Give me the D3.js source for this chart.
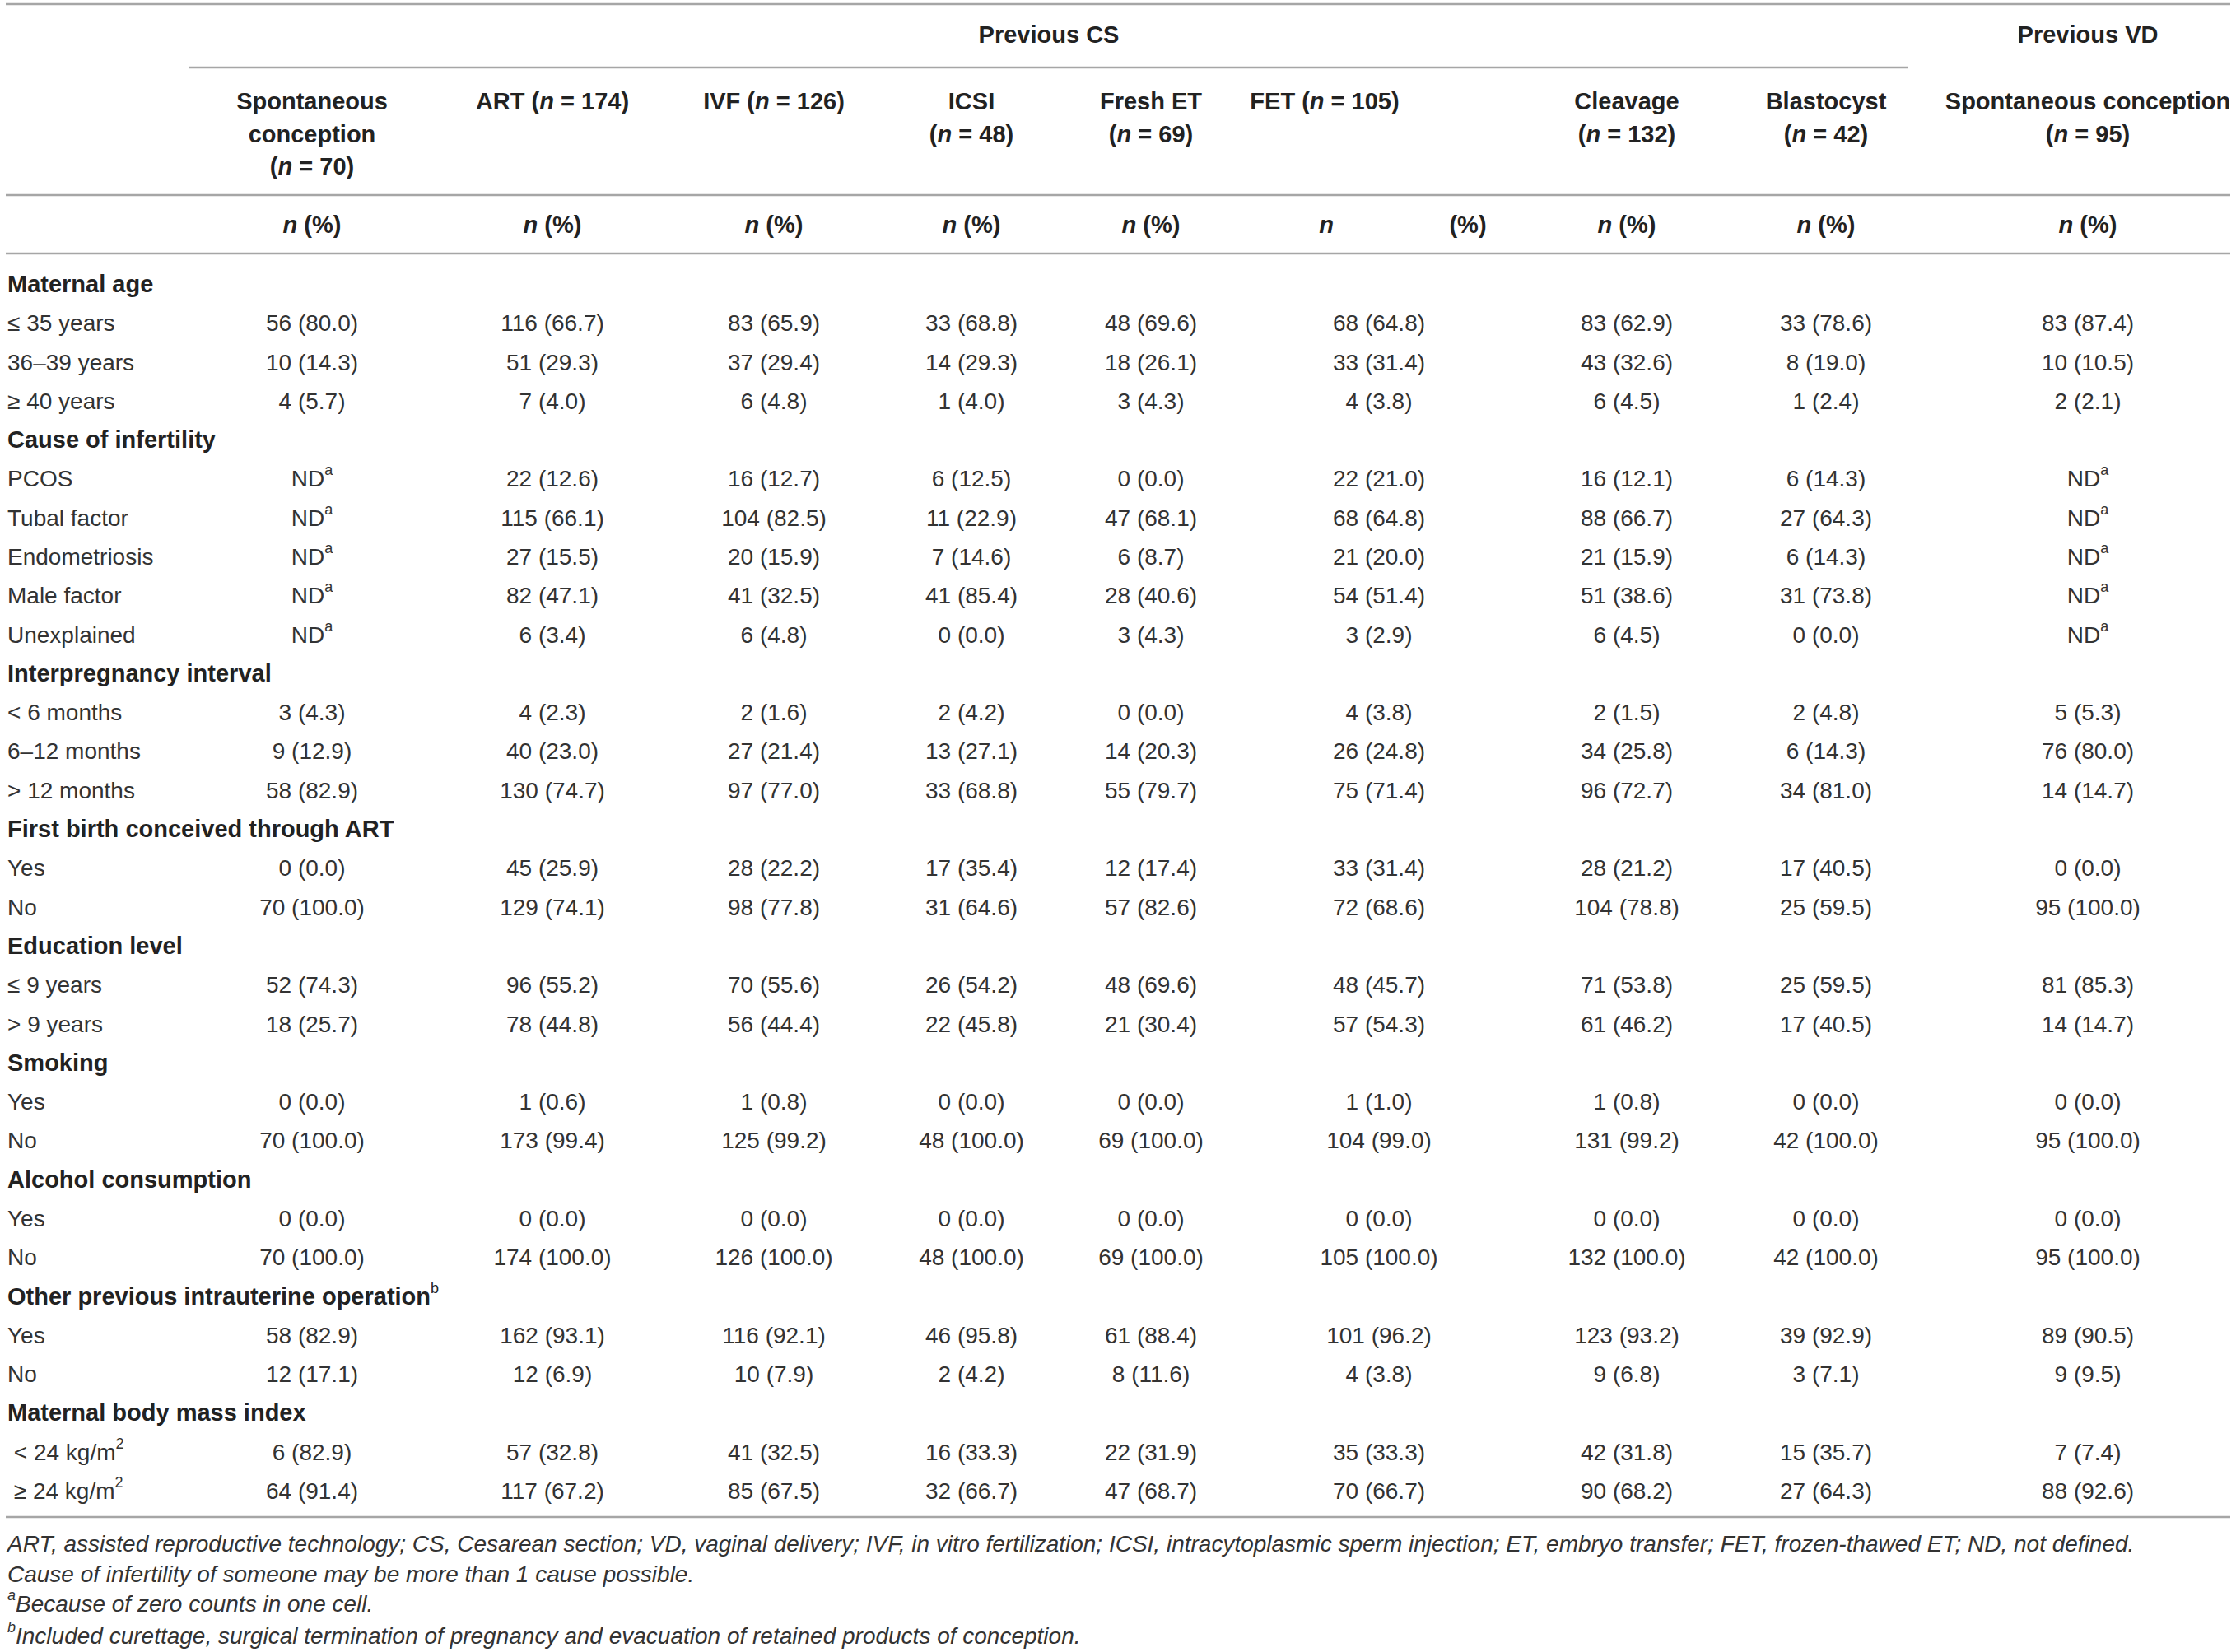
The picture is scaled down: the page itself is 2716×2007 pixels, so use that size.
<!DOCTYPE html>
<html>
<head>
<meta charset="utf-8">
<script src="https://cdn.jsdelivr.net/npm/d3@7"></script>
<style>
  body { margin: 0; background: #fff; }
  svg { display: block; font-family: "Liberation Sans", Arial, sans-serif; }
  .cell { font-size: 28px; fill: #333; }
  .bold { font-weight: bold; font-size: 29px; fill: #222; }
  .note { font-size: 28px; font-style: italic; fill: #333; }
  .rule { stroke: #a6a6a6; stroke-width: 2.5; }
</style>
</head>
<body>
<svg width="2716" height="2007"></svg>
<script>
  //Section titles and the sub-rows under each one
  const sectionTitles = [
    'Maternal age', 'Cause of infertility', 'Interpregnancy interval',
    'First birth conceived through ART', 'Education level', 'Smoking',
    'Alcohol consumption', 'Other previous intrauterine operation^b',
    'Maternal body mass index'
  ];
  const itemLabels = [
    ['≤ 35 years', '36–39 years', '≥ 40 years'],
    ['PCOS', 'Tubal factor', 'Endometriosis', 'Male factor', 'Unexplained'],
    ['< 6 months', '6–12 months', '> 12 months'],
    ['Yes', 'No'],
    ['≤ 9 years', '> 9 years'],
    ['Yes', 'No'],
    ['Yes', 'No'],
    ['Yes', 'No'],
    [' < 24 kg/m^2', ' ≥ 24 kg/m^2']
  ];

  //Column values, one entry per sub-row, "ND^a" = not defined
  const spontCS = ['56 (80.0)', '10 (14.3)', '4 (5.7)', 'ND^a', 'ND^a', 'ND^a', 'ND^a', 'ND^a',
    '3 (4.3)', '9 (12.9)', '58 (82.9)', '0 (0.0)', '70 (100.0)', '52 (74.3)', '18 (25.7)',
    '0 (0.0)', '70 (100.0)', '0 (0.0)', '70 (100.0)', '58 (82.9)', '12 (17.1)', '6 (82.9)', '64 (91.4)'];
  const art = ['116 (66.7)', '51 (29.3)', '7 (4.0)', '22 (12.6)', '115 (66.1)', '27 (15.5)', '82 (47.1)', '6 (3.4)',
    '4 (2.3)', '40 (23.0)', '130 (74.7)', '45 (25.9)', '129 (74.1)', '96 (55.2)', '78 (44.8)',
    '1 (0.6)', '173 (99.4)', '0 (0.0)', '174 (100.0)', '162 (93.1)', '12 (6.9)', '57 (32.8)', '117 (67.2)'];
  const ivf = ['83 (65.9)', '37 (29.4)', '6 (4.8)', '16 (12.7)', '104 (82.5)', '20 (15.9)', '41 (32.5)', '6 (4.8)',
    '2 (1.6)', '27 (21.4)', '97 (77.0)', '28 (22.2)', '98 (77.8)', '70 (55.6)', '56 (44.4)',
    '1 (0.8)', '125 (99.2)', '0 (0.0)', '126 (100.0)', '116 (92.1)', '10 (7.9)', '41 (32.5)', '85 (67.5)'];
  const icsi = ['33 (68.8)', '14 (29.3)', '1 (4.0)', '6 (12.5)', '11 (22.9)', '7 (14.6)', '41 (85.4)', '0 (0.0)',
    '2 (4.2)', '13 (27.1)', '33 (68.8)', '17 (35.4)', '31 (64.6)', '26 (54.2)', '22 (45.8)',
    '0 (0.0)', '48 (100.0)', '0 (0.0)', '48 (100.0)', '46 (95.8)', '2 (4.2)', '16 (33.3)', '32 (66.7)'];
  const freshET = ['48 (69.6)', '18 (26.1)', '3 (4.3)', '0 (0.0)', '47 (68.1)', '6 (8.7)', '28 (40.6)', '3 (4.3)',
    '0 (0.0)', '14 (20.3)', '55 (79.7)', '12 (17.4)', '57 (82.6)', '48 (69.6)', '21 (30.4)',
    '0 (0.0)', '69 (100.0)', '0 (0.0)', '69 (100.0)', '61 (88.4)', '8 (11.6)', '22 (31.9)', '47 (68.7)'];
  const fet = ['68 (64.8)', '33 (31.4)', '4 (3.8)', '22 (21.0)', '68 (64.8)', '21 (20.0)', '54 (51.4)', '3 (2.9)',
    '4 (3.8)', '26 (24.8)', '75 (71.4)', '33 (31.4)', '72 (68.6)', '48 (45.7)', '57 (54.3)',
    '1 (1.0)', '104 (99.0)', '0 (0.0)', '105 (100.0)', '101 (96.2)', '4 (3.8)', '35 (33.3)', '70 (66.7)'];
  const cleavage = ['83 (62.9)', '43 (32.6)', '6 (4.5)', '16 (12.1)', '88 (66.7)', '21 (15.9)', '51 (38.6)', '6 (4.5)',
    '2 (1.5)', '34 (25.8)', '96 (72.7)', '28 (21.2)', '104 (78.8)', '71 (53.8)', '61 (46.2)',
    '1 (0.8)', '131 (99.2)', '0 (0.0)', '132 (100.0)', '123 (93.2)', '9 (6.8)', '42 (31.8)', '90 (68.2)'];
  const blastocyst = ['33 (78.6)', '8 (19.0)', '1 (2.4)', '6 (14.3)', '27 (64.3)', '6 (14.3)', '31 (73.8)', '0 (0.0)',
    '2 (4.8)', '6 (14.3)', '34 (81.0)', '17 (40.5)', '25 (59.5)', '25 (59.5)', '17 (40.5)',
    '0 (0.0)', '42 (100.0)', '0 (0.0)', '42 (100.0)', '39 (92.9)', '3 (7.1)', '15 (35.7)', '27 (64.3)'];
  const spontVD = ['83 (87.4)', '10 (10.5)', '2 (2.1)', 'ND^a', 'ND^a', 'ND^a', 'ND^a', 'ND^a',
    '5 (5.3)', '76 (80.0)', '14 (14.7)', '0 (0.0)', '95 (100.0)', '81 (85.3)', '14 (14.7)',
    '0 (0.0)', '95 (100.0)', '0 (0.0)', '95 (100.0)', '89 (90.5)', '9 (9.5)', '7 (7.4)', '88 (92.6)'];

  //Column keys, header lines (*n* = italic n) and values
  const columnKeys = ['spontCS', 'art', 'ivf', 'icsi', 'fresh', 'fet', 'cleavage', 'blasto', 'spontVD'];
  const columnHeaders = [
    ['Spontaneous', 'conception', '(*n* = 70)'],
    ['ART (*n* = 174)'],
    ['IVF (*n* = 126)'],
    ['ICSI', '(*n* = 48)'],
    ['Fresh ET', '(*n* = 69)'],
    ['FET (*n* = 105)'],
    ['Cleavage', '(*n* = 132)'],
    ['Blastocyst', '(*n* = 42)'],
    ['Spontaneous conception', '(*n* = 95)']
  ];
  const columnValues = [spontCS, art, ivf, icsi, freshET, fet, cleavage, blastocyst, spontVD];

  const footnotes = [
    'ART, assisted reproductive technology; CS, Cesarean section; VD, vaginal delivery; IVF, in vitro fertilization; ICSI, intracytoplasmic sperm injection; ET, embryo transfer; FET, frozen-thawed ET; ND, not defined.',
    'Cause of infertility of someone may be more than 1 cause possible.',
    '^aBecause of zero counts in one cell.',
    '^bIncluded curettage, surgical termination of pregnancy and evacuation of retained products of conception.'
  ];

  const svg = d3.select('svg');
  const width = +svg.attr('width');

  //x centre of each column
  const xCol = d3.scaleOrdinal()
    .domain(columnKeys)
    .range([379, 671, 940, 1180, 1398, 1675, 1976, 2218, 2536]);
  //FET header sits left of its values, with split n / (%) sub-header
  const fetHeadX = 1609, fetNX = 1611, fetPctX = 1783;

  //Flatten sections into table rows
  const rows = [];
  let k = 0;
  sectionTitles.forEach((t, i) => {
    rows.push({ label: t, heading: true });
    itemLabels[i].forEach(lab => {
      rows.push({ label: lab, heading: false, idx: k });
      k += 1;
    });
  });

  const yRow = d3.scalePoint()
    .domain(d3.range(rows.length))
    .range([345, 1811]);

  const left = 9, right = 2709;

  //Writes rich text: *n* -> italic, ^x -> superscript x
  const rich = (sel, str, supSize) => {
    const parts = str.split(/(\*n\*|\^[a-z0-9])/).filter(s => s !== '');
    parts.forEach(p => {
      if (p === '*n*') {
        sel.append('tspan').attr('font-style', 'italic').text('n');
      } else if (p[0] === '^') {
        sel.append('tspan')
          .attr('baseline-shift', 'super')
          .attr('font-size', supSize || 18)
          .attr('font-weight', 'normal')
          .text(p.slice(1));
      } else {
        sel.append('tspan').text(p);
      }
    });
  };

  //Horizontal rules
  const rules = [
    [left - 2, right, 5], [229, 2317, 82], [left - 2, right, 237],
    [left - 2, right, 308], [left - 2, right, 1843]
  ];
  svg.selectAll('line.rule').data(rules)
    .enter().append('line')
      .attr('class', 'rule')
      .attr('x1', d => d[0]).attr('x2', d => d[1])
      .attr('y1', d => d[2]).attr('y2', d => d[2]);

  //Group headers
  svg.append('text').attr('class', 'cell bold')
    .attr('x', 1274).attr('y', 42)
    .attr('text-anchor', 'middle').attr('dominant-baseline', 'central')
    .text('Previous CS');
  svg.append('text').attr('class', 'cell bold')
    .attr('x', xCol('spontVD')).attr('y', 42)
    .attr('text-anchor', 'middle').attr('dominant-baseline', 'central')
    .text('Previous VD');

  //Column headers
  columnKeys.forEach((key, i) => {
    columnHeaders[i].forEach((line, j) => {
      const t = svg.append('text').attr('class', 'cell bold')
        .attr('x', key === 'fet' ? fetHeadX : xCol(key))
        .attr('y', 123 + j * 39.5)
        .attr('text-anchor', 'middle')
        .attr('dominant-baseline', 'central');
      rich(t, line);
    });
    //n (%) sub header
    if (key === 'fet') {
      [['*n*', fetNX], ['(%)', fetPctX]].forEach(([s, x]) => {
        const t = svg.append('text').attr('class', 'cell bold')
          .attr('x', x).attr('y', 273)
          .attr('text-anchor', 'middle').attr('dominant-baseline', 'central');
        rich(t, s);
      });
    } else {
      const t = svg.append('text').attr('class', 'cell bold')
        .attr('x', xCol(key)).attr('y', 273)
        .attr('text-anchor', 'middle').attr('dominant-baseline', 'central');
      rich(t, '*n* (%)');
    }
  });

  //Row labels
  rows.forEach((r, i) => {
    const t = svg.append('text')
      .attr('class', r.heading ? 'cell bold' : 'cell')
      .attr('x', left).attr('y', yRow(i))
      .attr('dominant-baseline', 'central')
      .style('white-space', 'pre');
    rich(t, r.label);
  });

  //Cells
  const bodyRows = rows.map((r, i) => ({ ...r, i })).filter(r => !r.heading);
  columnKeys.forEach((key, c) => {
    bodyRows.forEach(r => {
      const t = svg.append('text').attr('class', 'cell')
        .attr('x', xCol(key)).attr('y', yRow(r.i))
        .attr('text-anchor', 'middle').attr('dominant-baseline', 'central');
      rich(t, columnValues[c][r.idx]);
    });
  });

  //Footnotes
  const noteY = [1875, 1912, 1948, 1987];
  footnotes.forEach((s, i) => {
    const t = svg.append('text').attr('class', 'note')
      .attr('x', left).attr('y', noteY[i])
      .attr('dominant-baseline', 'central');
    rich(t, s, 18);
  });
</script>
</body>
</html>
